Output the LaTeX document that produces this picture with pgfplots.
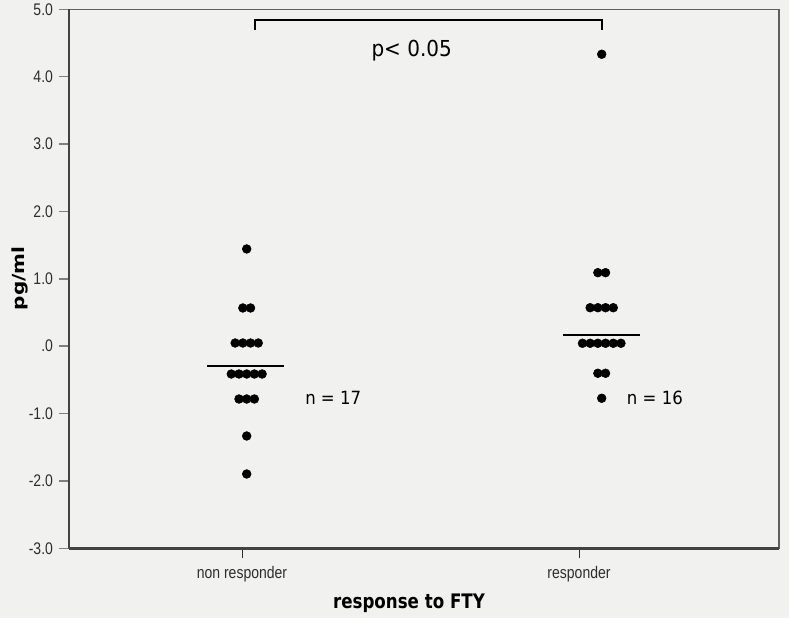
\documentclass[border=0pt]{standalone}
\usepackage{pgfplots}
\pgfplotsset{compat=1.18}
\usepackage{fontspec}
\setmainfont{Liberation Sans}
\newfontfamily\dejavu{DejaVu Sans}
\definecolor{bgc}{RGB}{241,242,240}
\definecolor{axc}{RGB}{95,95,95}
\definecolor{txc}{RGB}{45,45,45}
\begin{document}
\begin{tikzpicture}[x=0.75pt,y=0.75pt]
\fill[bgc] (-69,-69.7) rectangle (720,548.3);
\begin{axis}[
  at={(0,0)}, anchor=south west,
  scale only axis, width=532.5pt, height=404.25pt,
  xmin=69, xmax=779, ymin=-3, ymax=5,
  clip=false,
  axis line style={draw=axc, line width=1.1pt},
  xtick={242,579}, xticklabels={non responder, responder},
  ytick={-3,-2,-1,0,1,2,3,4,5},
  yticklabels={-3.0,-2.0,-1.0,.0,1.0,2.0,3.0,4.0,5.0},
  tick align=outside, xtick pos=lower, ytick pos=left,
  major tick length=7.5pt,
  y tick style={draw=axc!80, line width=1.1pt},
  x tick style={draw=txc, line width=0.6pt},
  ticklabel style={font=\fontsize{10.5}{12}\selectfont, text=txc, yscale=1.2},
  yticklabel style={xshift=-1pt, inner ysep=0pt},
  xticklabel style={yshift=-1.5pt},
]
% axis lines emphasis
\addplot[draw=txc!90, line width=2.2pt, forget plot] coordinates {(69,-3) (779,-3)};
\addplot[draw=txc!90, line width=1.4pt, forget plot] coordinates {(69,-3) (69,5)};
% non responder
\addplot[only marks, mark=*, mark size=3.3pt, mark options={fill=black, draw=black}] coordinates {
(246.7,1.443)
(242.85,0.567) (250.55,0.567)
(235.15,0.047) (242.85,0.047) (250.55,0.047) (258.25,0.047)
(231.3,-0.413) (239.0,-0.413) (246.7,-0.413) (254.4,-0.413) (262.1,-0.413)
(239.0,-0.784) (246.7,-0.784) (254.4,-0.784)
(246.7,-1.333)
(246.7,-1.897)
};
% responder
\addplot[only marks, mark=*, mark size=3.3pt, mark options={fill=black, draw=black}] coordinates {
(601.7,4.333)
(597.85,1.091) (605.55,1.091)
(590.15,0.571) (597.85,0.571) (605.55,0.571) (613.25,0.571)
(582.45,0.043) (590.15,0.043) (597.85,0.043) (605.55,0.043) (613.25,0.043) (620.95,0.043)
(597.85,-0.402) (605.55,-0.402)
(601.7,-0.773)
};
% means
\addplot[black, line width=1.5pt] coordinates {(207,-0.294) (284,-0.294)};
\addplot[black, line width=1.5pt] coordinates {(563,0.166) (640,0.166)};
% bracket
\addplot[black, line width=1.2pt] coordinates {(255,4.694) (255,4.842) (601.7,4.842) (601.7,4.694)};
\node[anchor=base, inner sep=0, yscale=1.1, font=\dejavu\fontsize{15}{18}\selectfont] at (axis cs:411.7,4.297) {p< 0.05};
\node[anchor=base west, inner sep=0, yscale=1.1, font=\dejavu\fontsize{12.4}{14}\selectfont] at (axis cs:305,-0.873) {n = 17};
\node[anchor=base west, inner sep=0, yscale=1.1, font=\dejavu\fontsize{12.4}{14}\selectfont] at (axis cs:626.7,-0.873) {n = 16};
\node[anchor=base, inner sep=0, yscale=1.2, font=\dejavu\bfseries\fontsize{12.5}{14}\selectfont] at (axis cs:409,-3.890) {response to FTY};
\node[rotate=90, anchor=center, inner sep=0, xscale=1.2, font=\dejavu\bfseries\fontsize{12.5}{14}\selectfont] at (axis cs:19.5,1.005) {pg/ml};
\end{axis}
\pgfresetboundingbox
\path[use as bounding box] (-69,-69.7) rectangle (720,548.3);
\end{tikzpicture}
\end{document}
